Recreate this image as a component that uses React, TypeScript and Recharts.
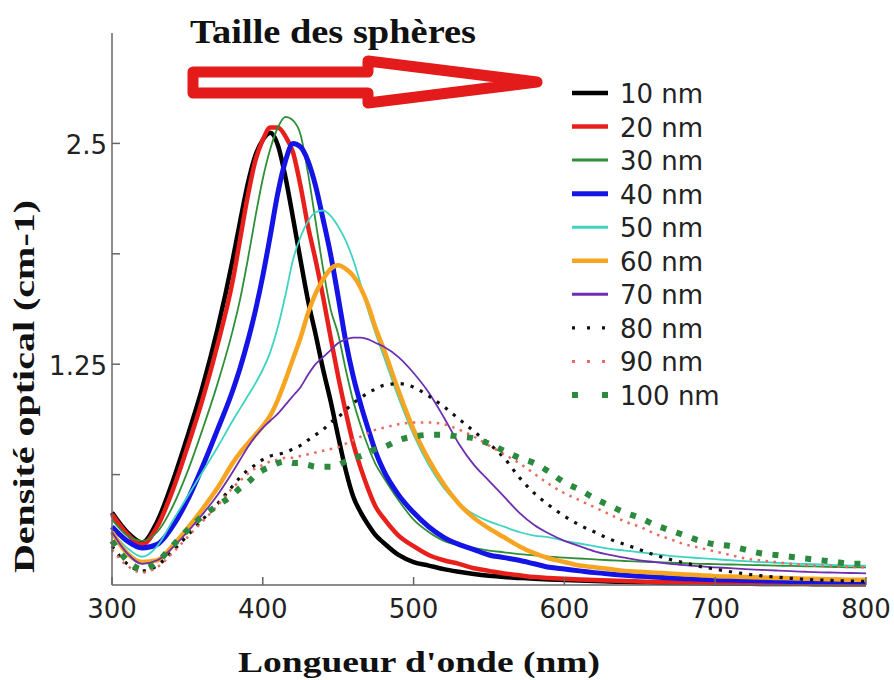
import React from 'react';
import { LineChart, Line, XAxis, YAxis, Legend } from 'recharts';

// Wavelength grid (nm): 10 nm steps, 5 nm steps around the plasmon peaks
const wavelengths = [
  300, 310, 320, 330, 340, 350, 360, 370,
  380, 385, 390, 395, 400, 405, 410, 415, 420, 425, 430, 435, 440, 445, 450, 455, 460, 465, 470, 475, 480,
  490, 500, 510, 520, 530, 540, 550, 560, 570, 580, 590, 600, 610, 620, 630, 640, 650,
  660, 670, 680, 690, 700, 710, 720, 730, 740, 750, 760, 770, 780, 790, 800,
];

// optical density per sphere size
const nm10 = [
  0.41, 0.30, 0.24, 0.36, 0.58, 0.84, 1.12, 1.45,
  1.84, 2.06, 2.27, 2.43, 2.52, 2.56, 2.49, 2.31, 2.08, 1.84, 1.61, 1.42, 1.22, 1.04, 0.84, 0.65, 0.50, 0.41, 0.34, 0.28, 0.24,
  0.17, 0.13, 0.11, 0.09, 0.075, 0.062, 0.052, 0.045, 0.04, 0.035, 0.031, 0.028, 0.025, 0.022, 0.02, 0.018, 0.016,
  0.014, 0.012, 0.011, 0.01, 0.009, 0.008, 0.007, 0.006, 0.006, 0.005, 0.005, 0.004, 0.004, 0.004, 0.004,
];
const nm20 = [
  0.40, 0.29, 0.23, 0.33, 0.53, 0.78, 1.05, 1.36,
  1.72, 1.96, 2.20, 2.40, 2.52, 2.59, 2.59, 2.54, 2.45, 2.26, 2.03, 1.84, 1.63, 1.40, 1.18, 0.98, 0.80, 0.66, 0.54, 0.44, 0.38,
  0.28, 0.22, 0.17, 0.14, 0.12, 0.095, 0.08, 0.065, 0.055, 0.045, 0.04, 0.035, 0.031, 0.028, 0.025, 0.022, 0.02,
  0.018, 0.016, 0.014, 0.013, 0.012, 0.011, 0.01, 0.009, 0.008, 0.008, 0.007, 0.007, 0.006, 0.006, 0.006,
];
const nm30 = [
  0.37, 0.28, 0.25, 0.30, 0.44, 0.64, 0.88, 1.14,
  1.44, 1.62, 1.84, 2.08, 2.30, 2.47, 2.59, 2.65, 2.63, 2.55, 2.33, 2.06, 1.79, 1.56, 1.42, 1.22, 1.04, 0.90, 0.78, 0.68, 0.61,
  0.48, 0.37, 0.30, 0.25, 0.225, 0.21, 0.195, 0.185, 0.175, 0.168, 0.16, 0.155, 0.15, 0.145, 0.14, 0.136, 0.132,
  0.129, 0.126, 0.123, 0.12, 0.118, 0.116, 0.114, 0.112, 0.11, 0.108, 0.106, 0.104, 0.102, 0.1, 0.1,
];
const nm40 = [
  0.33, 0.25, 0.21, 0.23, 0.33, 0.48, 0.67, 0.88,
  1.10, 1.23, 1.38, 1.55, 1.75, 1.98, 2.22, 2.40, 2.50, 2.48, 2.40, 2.26, 2.07, 1.87, 1.63, 1.38, 1.18, 1.02, 0.88, 0.75, 0.65,
  0.51, 0.41, 0.33, 0.27, 0.23, 0.20, 0.17, 0.155, 0.14, 0.12, 0.10, 0.09, 0.08, 0.07, 0.062, 0.055, 0.05,
  0.045, 0.04, 0.036, 0.033, 0.03, 0.028, 0.026, 0.024, 0.022, 0.02, 0.019, 0.018, 0.017, 0.016, 0.015,
];
const nm50 = [
  0.30, 0.21, 0.16, 0.22, 0.36, 0.50, 0.64, 0.78,
  0.93, 1.00, 1.07, 1.14, 1.22, 1.32, 1.46, 1.64, 1.84, 1.97, 2.06, 2.11, 2.12, 2.09, 2.03, 1.95, 1.84, 1.70, 1.55, 1.42, 1.30,
  1.06, 0.85, 0.68, 0.55, 0.46, 0.40, 0.36, 0.33, 0.30, 0.28, 0.27, 0.25, 0.235, 0.22, 0.205, 0.195, 0.185,
  0.175, 0.165, 0.158, 0.152, 0.146, 0.14, 0.135, 0.13, 0.126, 0.122, 0.119, 0.116, 0.113, 0.11, 0.11,
];
const nm60 = [
  0.30, 0.18, 0.13, 0.14, 0.22, 0.32, 0.43, 0.55,
  0.69, 0.75, 0.80, 0.85, 0.90, 0.96, 1.05, 1.16, 1.28, 1.40, 1.54, 1.65, 1.73, 1.79, 1.81, 1.79, 1.75, 1.68, 1.58, 1.45, 1.34,
  1.10, 0.88, 0.71, 0.57, 0.46, 0.38, 0.32, 0.27, 0.22, 0.18, 0.15, 0.13, 0.11, 0.10, 0.09, 0.08, 0.075,
  0.07, 0.065, 0.06, 0.055, 0.05, 0.048, 0.045, 0.042, 0.04, 0.038, 0.036, 0.034, 0.032, 0.03, 0.03,
];
const nm70 = [
  0.30, 0.18, 0.12, 0.14, 0.21, 0.30, 0.40, 0.51,
  0.64, 0.71, 0.78, 0.84, 0.89, 0.93, 0.97, 1.02, 1.07, 1.12, 1.19, 1.25, 1.29, 1.33, 1.37, 1.39, 1.40, 1.40, 1.39, 1.37, 1.35,
  1.29, 1.20, 1.09, 0.95, 0.80, 0.68, 0.59, 0.50, 0.41, 0.34, 0.29, 0.25, 0.22, 0.19, 0.17, 0.155, 0.14,
  0.13, 0.12, 0.112, 0.105, 0.10, 0.095, 0.09, 0.086, 0.082, 0.078, 0.075, 0.072, 0.07, 0.068, 0.066,
];
const nm80 = [
  0.22, 0.12, 0.08, 0.11, 0.19, 0.28, 0.37, 0.46,
  0.56, 0.61, 0.65, 0.68, 0.71, 0.73, 0.74, 0.75, 0.77, 0.79, 0.82, 0.85, 0.88, 0.92, 0.95, 0.99, 1.03, 1.06, 1.09, 1.11, 1.13,
  1.14, 1.12, 1.07, 1.01, 0.94, 0.87, 0.80, 0.72, 0.61, 0.52, 0.45, 0.39, 0.34, 0.30, 0.26, 0.23, 0.20,
  0.17, 0.145, 0.125, 0.105, 0.09, 0.075, 0.063, 0.053, 0.045, 0.038, 0.032, 0.028, 0.025, 0.022, 0.02,
];
const nm90 = [
  0.20, 0.11, 0.07, 0.10, 0.18, 0.27, 0.36, 0.45,
  0.55, 0.59, 0.63, 0.66, 0.68, 0.70, 0.71, 0.72, 0.72, 0.73, 0.74, 0.75, 0.76, 0.77, 0.78, 0.80, 0.82, 0.84, 0.86, 0.88, 0.89,
  0.91, 0.92, 0.92, 0.91, 0.88, 0.84, 0.79, 0.74, 0.69, 0.63, 0.57, 0.52, 0.48, 0.44, 0.40, 0.36, 0.33,
  0.29, 0.26, 0.23, 0.21, 0.19, 0.17, 0.15, 0.14, 0.13, 0.12, 0.112, 0.108, 0.105, 0.102, 0.1,
];
const nm100 = [
  0.25, 0.14, 0.09, 0.13, 0.22, 0.31, 0.39, 0.45,
  0.51, 0.55, 0.58, 0.62, 0.65, 0.67, 0.69, 0.70, 0.69, 0.69, 0.68, 0.67, 0.67, 0.67, 0.68, 0.70, 0.72, 0.73, 0.75, 0.77, 0.78,
  0.82, 0.84, 0.85, 0.85, 0.84, 0.83, 0.80, 0.76, 0.72, 0.69, 0.64, 0.58, 0.54, 0.49, 0.45, 0.41, 0.38,
  0.34, 0.31, 0.28, 0.25, 0.23, 0.22, 0.20, 0.18, 0.17, 0.16, 0.15, 0.14, 0.13, 0.12, 0.12,
];

const sizeNames = ['10 nm', '20 nm', '30 nm', '40 nm', '50 nm', '60 nm', '70 nm', '80 nm', '90 nm', '100 nm'];
const xTicks = [300, 400, 500, 600, 700, 800];
const yTicks = [0.625, 1.25, 1.875, 2.5];
const yLabelled = [1.25, 2.5];

const series = [
  { key: 'nm10', values: nm10, color: '#000000', width: 4.5 },
  { key: 'nm20', values: nm20, color: '#e8201c', width: 4.5 },
  { key: 'nm30', values: nm30, color: '#2f8f37', width: 1.8 },
  { key: 'nm40', values: nm40, color: '#1414e6', width: 5 },
  { key: 'nm50', values: nm50, color: '#3fd3c2', width: 1.8 },
  { key: 'nm60', values: nm60, color: '#f5a521', width: 4.5 },
  { key: 'nm70', values: nm70, color: '#6d2fb0', width: 1.8 },
  { key: 'nm80', values: nm80, color: '#111111', width: 3.2, dash: '3.2 7', legendDash: '3 12' },
  { key: 'nm90', values: nm90, color: '#ea6a60', width: 2.5, dash: '2.5 5.5', legendDash: '3 12' },
  { key: 'nm100', values: nm100, color: '#2c8a3e', width: 6, dash: '6 10.5', legendDash: '6 24' },
].map((s, i) => ({ ...s, name: sizeNames[i] }));

const data = wavelengths.map((w, i) => {
  const row: Record<string, number> = { w };
  series.forEach((s) => {
    row[s.key] = s.values[i];
  });
  return row;
});

const tickFont = { fontFamily: '"DejaVu Sans", sans-serif', fontSize: 26, fill: '#222' };
const axisColor = '#666';

const XTick = (props: any) => {
  const { x, y, payload } = props;
  return (
    <g>
      <line x1={x} x2={x} y1={y} y2={y - 8} stroke={axisColor} strokeWidth={1.5} />
      <text x={x} y={y + 33} textAnchor="middle" {...tickFont}>
        {payload.value}
      </text>
    </g>
  );
};

const YTick = (props: any) => {
  const { x, y, payload } = props;
  return (
    <g>
      <line x1={x} x2={x + 8} y1={y} y2={y} stroke={axisColor} strokeWidth={1.5} />
      {yLabelled.includes(payload.value) && (
        <text x={x - 5} y={y + 11} textAnchor="end" {...tickFont}>
          {payload.value}
        </text>
      )}
    </g>
  );
};

const SizeLegend = () => (
  <svg width={220} height={340}>
    {series.map((s, i) => {
      const cy = 17 + i * 33.56;
      return (
        <g key={s.key}>
          <line
            x1={12}
            x2={48}
            y1={cy}
            y2={cy}
            stroke={s.color}
            strokeWidth={Math.max(s.width, 3)}
            strokeDasharray={s.legendDash}
          />
          <text x={60} y={cy + 10} {...tickFont}>
            {s.name}
          </text>
        </g>
      );
    })}
  </svg>
);

const serif = '"Liberation Serif", "Times New Roman", serif';

export default function App() {
  return (
    <div style={{ position: 'absolute', left: 0, top: 0, width: 894, height: 680, background: '#fff' }}>
      <LineChart width={894} height={680} data={data} margin={{ top: 33, right: 28, bottom: 55, left: 52 }}>
        <XAxis
          dataKey="w"
          type="number"
          domain={[300, 800]}
          ticks={xTicks}
          height={40}
          tickSize={0}
          tickMargin={0}
          tick={<XTick />}
          axisLine={{ stroke: axisColor, strokeWidth: 1.5 }}
          tickLine={false}
        />
        <YAxis
          type="number"
          domain={[0, 3.125]}
          ticks={yTicks}
          width={60}
          tickSize={0}
          tickMargin={0}
          tick={<YTick />}
          axisLine={{ stroke: axisColor, strokeWidth: 1.5 }}
          tickLine={false}
        />
        <Legend
          layout="vertical"
          align="center"
          verticalAlign="middle"
          content={<SizeLegend />}
          wrapperStyle={{ left: 560, top: 76, width: 220, height: 340 }}
        />
        {series.map((s) => (
          <Line
            key={s.key}
            dataKey={s.key}
            name={s.name}
            type="monotone"
            stroke={s.color}
            strokeWidth={s.width}
            strokeDasharray={s.dash}
            dot={false}
            isAnimationActive={false}
          />
        ))}
      </LineChart>
      <svg
        width={894}
        height={680}
        style={{ position: 'absolute', left: 0, top: 0, pointerEvents: 'none' }}
      >
        <text x={190} y={43} fontFamily={serif} fontWeight="bold" fontSize={34} fill="#111" textLength={286} lengthAdjust="spacingAndGlyphs">
          Taille des sphères
        </text>
        <polygon
          points="193,72 368,72 368,61 537,82 368,103 368,93 193,93"
          fill="none"
          stroke="#e41b1b"
          strokeWidth={11}
          strokeLinejoin="round"
        />
        <text x={238} y={672} fontFamily={serif} fontWeight="bold" fontSize={30} fill="#111" textLength={362} lengthAdjust="spacingAndGlyphs">
          Longueur d'onde (nm)
        </text>
        <text
          transform="translate(34, 573) rotate(-90)"
          fontFamily={serif}
          fontWeight="bold"
          fontSize={30}
          fill="#111"
          textLength={373}
          lengthAdjust="spacingAndGlyphs"
        >
          Densité optical (cm-1)
        </text>
      </svg>
    </div>
  );
}
